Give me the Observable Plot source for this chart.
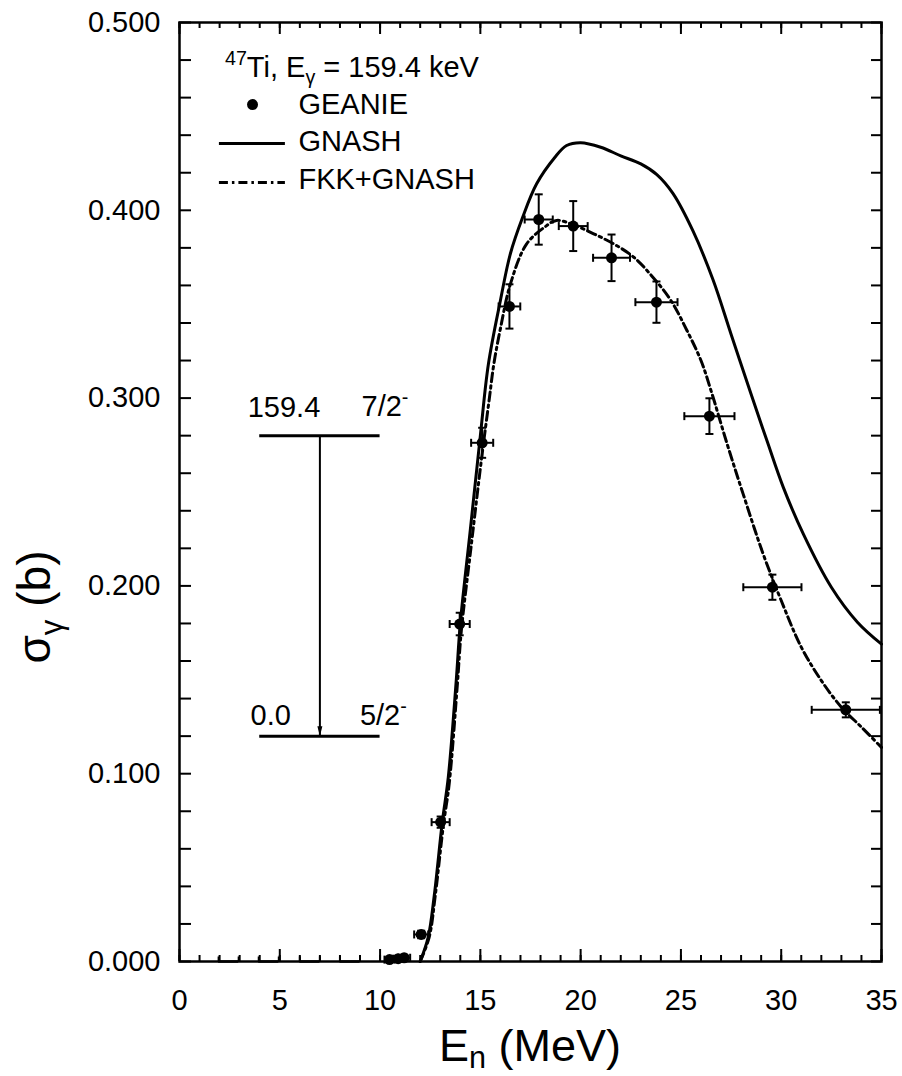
<!DOCTYPE html>
<html><head><meta charset="utf-8">
<script src="https://cdn.jsdelivr.net/npm/d3@7"></script>
<script src="https://cdn.jsdelivr.net/npm/@observablehq/plot@0.6"></script>
<style>
body{margin:0;background:#fff;}
#chart svg{display:block;}
</style></head><body><div id="chart"></div>
<script>
const font = "'Liberation Sans', Arial, Helvetica, sans-serif";

// ---- axis ticks ----
const xTickValues = [0, 5, 10, 15, 20, 25, 30, 35];
const xMinorTicks = [0,1,2,3,4,5,6,7,8,9,10,11,12,13,14,15,16,17,18,19,20,21,22,23,24,25,26,27,28,29,30,31,32,33,34,35];
const yTickValues = [0, 0.1, 0.2, 0.3, 0.4, 0.5];
const yMinorTicks = [0,0.02,0.04,0.06,0.08,0.1,0.12,0.14,0.16,0.18,0.2,0.22,0.24,0.26,0.28,0.3,0.32,0.34,0.36,0.38,0.4,0.42,0.44,0.46,0.48,0.5];

// ---- GEANIE data ----
const geanieE  = [10.47, 10.9, 11.2, 12.05, 13.02, 13.97, 15.09, 16.45, 17.91, 19.63, 21.54, 23.78, 26.42, 29.56, 33.22];
const geanieS  = [0.001, 0.0015, 0.002, 0.0144, 0.0742, 0.1797, 0.2762, 0.3488, 0.3951, 0.3916, 0.3747, 0.3511, 0.2904, 0.1993, 0.1340];
const geanieDE = [0.25, 0.25, 0.3, 0.35, 0.45, 0.5, 0.55, 0.54, 0.7, 0.72, 0.92, 1.05, 1.25, 1.45, 1.7];
const geanieDS = [0.001, 0.001, 0.001, 0.002, 0.003, 0.006, 0.008, 0.0118, 0.0134, 0.0133, 0.0124, 0.011, 0.0095, 0.0067, 0.004];
// zero-valued points at low energy
const zeroE  = [2.45, 4.45, 6.5, 8.5];
const zeroDE = [0.5, 0.5, 0.5, 0.5];

// ---- GNASH ----
const gnashE = [12.0, 12.4, 12.7, 13.1, 13.4, 13.8, 14.0, 14.5, 15.0, 15.4, 16.0, 16.5, 17.1, 17.8, 18.7, 19.3, 20.0, 21.0, 22.0, 23.0, 23.8, 24.6, 25.6, 26.6, 27.5, 28.5, 29.3, 30.1, 31.1, 32.5, 33.8, 35.0];
const gnashS = [0, 0.013, 0.035, 0.074, 0.098, 0.150, 0.180, 0.230, 0.280, 0.318, 0.352, 0.377, 0.396, 0.414, 0.428, 0.4345, 0.436, 0.4336, 0.429, 0.4247, 0.419, 0.409, 0.389, 0.363, 0.334, 0.302, 0.277, 0.2526, 0.2277, 0.1993, 0.1807, 0.169];

// ---- FKK+GNASH ----
const fkkE = [12.0, 12.45, 12.75, 13.15, 13.45, 13.85, 14.05, 14.55, 15.05, 15.45, 15.67, 16.0, 16.5, 17.3, 18.2, 18.8, 19.7, 20.65, 21.65, 22.65, 23.6, 24.5, 25.3, 26.0, 26.5, 27.3, 28.1, 29.1, 30.0, 31.0, 32.0, 33.0, 34.0, 35.0];
const fkkS = [0, 0.013, 0.035, 0.072, 0.095, 0.147, 0.176, 0.222, 0.267, 0.300, 0.318, 0.337, 0.3608, 0.382, 0.391, 0.3946, 0.392, 0.3875, 0.3821, 0.375, 0.3644, 0.352, 0.336, 0.32, 0.304, 0.2757, 0.249, 0.217, 0.1922, 0.1674, 0.1496, 0.1354, 0.1248, 0.114];

// ---- level scheme ----
const levelY = [0.28, 0.12];
const levelEnergyLabels = ["159.4", "0.0"];
const levelSpinLabels = ["7/2", "5/2"];

// ---- legend ----
const legendLabels = ["GEANIE", "GNASH", "FKK+GNASH"];

const pts = geanieE.map((e, i) => ({E: e, s: geanieS[i], dE: geanieDE[i], ds: geanieDS[i]}));
const zeros = zeroE.map((e, i) => ({E: e, s: 0, dE: zeroDE[i]}));
const gnash = gnashE.map((e, i) => ({E: e, s: gnashS[i]}));
const fkk = fkkE.map((e, i) => ({E: e, s: fkkS[i]}));

const W = 902, H = 1076, mL = 179, mR = 21, mT = 22, mB = 115;
const fw = W - mL - mR, fh = H - mT - mB;

const vCap = {draw(ctx, size) { const r = Math.sqrt(size / Math.PI); ctx.moveTo(0, -r); ctx.lineTo(0, r); }};
const upCap = {draw(ctx, size) { const r = Math.sqrt(size / Math.PI); ctx.moveTo(0, 0); ctx.lineTo(0, -r); }};
const hCap = {draw(ctx, size) { const r = Math.sqrt(size / Math.PI); ctx.moveTo(-r, 0); ctx.lineTo(r, 0); }};
const headTri = {draw(ctx, size) { const r = Math.sqrt(size / Math.PI); ctx.moveTo(0, 0); ctx.lineTo(-r * 0.5, -r * 2); ctx.lineTo(r * 0.5, -r * 2); ctx.closePath(); }};
const dashDot = "9,4,2.5,4";

const plot = Plot.plot({
  width: W, height: H,
  marginLeft: mL, marginRight: mR, marginTop: mT, marginBottom: mB,
  x: {domain: [0, 35]},
  y: {domain: [0, 0.5]},
  style: {fontFamily: font, fontSize: "29px", background: "white", color: "black"},
  marks: [
    // ticks (inward), all four sides
    Plot.tickX(xTickValues, {x: d => d, insetTop: fh - 12, strokeWidth: 2}),
    Plot.tickX(xMinorTicks, {x: d => d, insetTop: fh - 6, strokeWidth: 2}),
    Plot.tickX(xTickValues, {x: d => d, insetBottom: fh - 12, strokeWidth: 2}),
    Plot.tickX(xMinorTicks, {x: d => d, insetBottom: fh - 6, strokeWidth: 2}),
    Plot.tickY(yMinorTicks, {y: d => d, insetRight: fw - 12, strokeWidth: 2}),
    Plot.tickY(yMinorTicks, {y: d => d, insetLeft: fw - 10, strokeWidth: 2}),
    Plot.axisX({ticks: xTickValues, tickSize: 0, tickPadding: 28, fontSize: 29, label: null, tickFormat: d => String(d)}),
    Plot.axisY({ticks: yTickValues, tickSize: 0, tickPadding: 19, fontSize: 29, label: null, tickFormat: d3.format(".3f")}),

    // level scheme
    Plot.ruleY(levelY, {y: d => d, x1: 4, x2: 10, strokeWidth: 3}),
    Plot.ruleX([7], {x: d => d, y1: levelY[0], y2: levelY[1], strokeWidth: 2}),
    Plot.dot([7], {x: d => d, y: levelY[1], symbol: headTri, r: 5, fill: "black", stroke: "none"}),
    Plot.text(levelEnergyLabels, {x: [3.40, 3.54], y: [0.2902, 0.1257], text: d => d, textAnchor: "start", lineAnchor: "bottom", fontSize: 29}),

    // curves
    Plot.line(gnash, {x: "E", y: "s", strokeWidth: 3, curve: "catmull-rom"}),
    Plot.line(fkk, {x: "E", y: "s", strokeWidth: 3, strokeDasharray: dashDot, curve: "catmull-rom"}),

    // zero points (error bars only)
    Plot.ruleY(zeros, {y: "s", x1: d => d.E - d.dE, x2: d => d.E + d.dE, strokeWidth: 2.5}),
    Plot.dot(zeros, {x: d => d.E - d.dE, y: "s", symbol: upCap, r: 5, stroke: "black", strokeWidth: 2}),
    Plot.dot(zeros, {x: d => d.E + d.dE, y: "s", symbol: upCap, r: 5, stroke: "black", strokeWidth: 2}),

    // GEANIE error bars
    Plot.ruleY(pts, {y: "s", x1: d => d.E - d.dE, x2: d => d.E + d.dE, strokeWidth: 2}),
    Plot.ruleX(pts, {x: "E", y1: d => d.s - d.ds, y2: d => d.s + d.ds, strokeWidth: 2}),
    Plot.dot(pts, {x: d => d.E - d.dE, y: "s", symbol: vCap, r: 4, stroke: "black", strokeWidth: 2}),
    Plot.dot(pts, {x: d => d.E + d.dE, y: "s", symbol: vCap, r: 4, stroke: "black", strokeWidth: 2}),
    Plot.dot(pts, {x: "E", y: d => d.s - d.ds, symbol: hCap, r: 4, stroke: "black", strokeWidth: 2}),
    Plot.dot(pts, {x: "E", y: d => d.s + d.ds, symbol: hCap, r: 4, stroke: "black", strokeWidth: 2}),
    Plot.dot(pts, {x: "E", y: "s", r: 5.5, fill: "black"}),

    // legend
    Plot.dot([0], {x: 3.64, y: 0.4563, r: 5.5, fill: "black"}),
    Plot.ruleY([0.4356], {y: d => d, x1: 1.99, x2: 5.28, strokeWidth: 3}),
    Plot.ruleY([0.4148], {y: d => d, x1: 1.99, x2: 5.28, strokeWidth: 3, strokeDasharray: dashDot}),
    Plot.text(legendLabels, {x: 5.93, y: [0.4515, 0.4318, 0.4116], text: d => d, textAnchor: "start", lineAnchor: "bottom", fontSize: 29}),

    Plot.frame({stroke: "black", strokeWidth: 2.5})
  ]
});

document.getElementById("chart").appendChild(plot);

// rich text (super/subscripts) positioned with the plot's scales
const svg = d3.select(plot);
const xs = plot.scale("x"), ys = plot.scale("y");
function rich(x, y, parts, size, anchor = "start", rotate = false, subShift = 0.25) {
  const t = svg.append("text")
    .attr("x", x).attr("y", y)
    .attr("font-family", font).attr("font-size", size)
    .attr("text-anchor", anchor).attr("fill", "black");
  if (rotate) t.attr("transform", `rotate(-90 ${x} ${y})`);
  let shift = 0;
  for (const p of parts) {
    const ts = t.append("tspan").text(p.t);
    const target = p.sup ? -size * 0.4 : p.sub ? size * subShift : 0;
    if (target !== shift) { ts.attr("dy", target - shift); shift = target; }
    if (p.sup || p.sub) ts.attr("font-size", size * 0.68);
  }
  return t;
}
// legend title
rich(xs.apply(2.29), ys.apply(0.4707), [{t: "47", sup: true}, {t: "Ti, E"}, {t: "γ", sub: true}, {t: " = 159.4 keV"}], 29);
// level spins
rich(xs.apply(9.10), ys.apply(0.2902), [{t: levelSpinLabels[0]}, {t: "-", sup: true}], 29);
rich(xs.apply(9.02), ys.apply(0.1257), [{t: levelSpinLabels[1]}, {t: "-", sup: true}], 29);
// axis titles
rich(mL + fw / 2, 1061, [{t: "E"}, {t: "n", sub: true}, {t: " (MeV)"}], 45, "middle", false, 0.15);
rich(50, 607, [{t: "σ"}, {t: "γ", sub: true}, {t: " (b)"}], 46, "middle", true);
</script></body></html>
